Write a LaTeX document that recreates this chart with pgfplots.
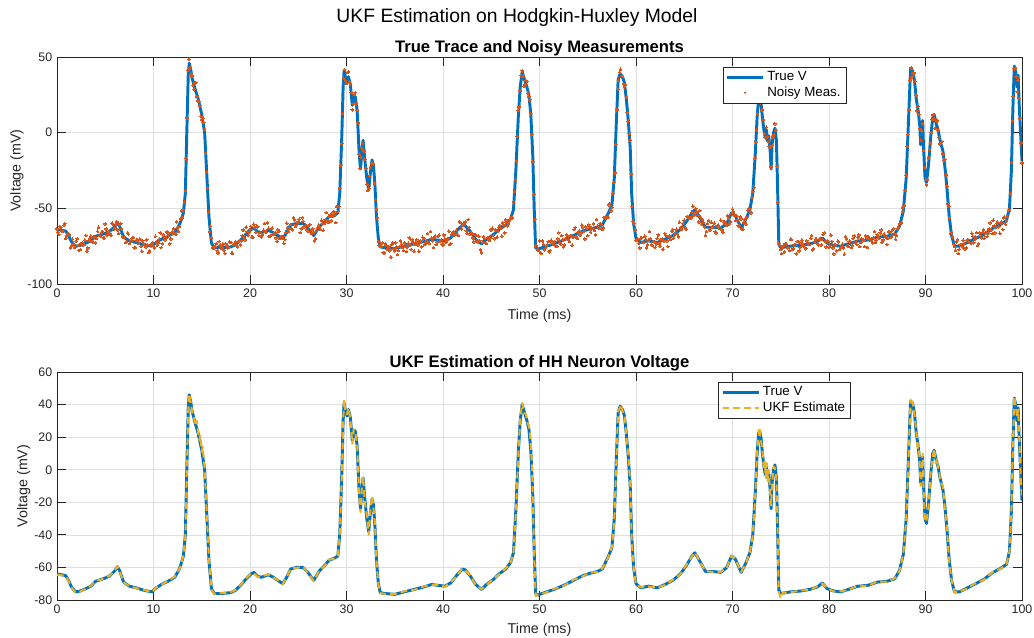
\documentclass[border=0pt]{standalone}
\usepackage{fontspec}
\setmainfont{Liberation Sans}
\usepackage{pgfplots}
\usepackage{pgfplotstable}
\pgfplotsset{compat=1.18}

\definecolor{mblue}{RGB}{0,114,189}
\definecolor{morange}{RGB}{217,83,25}
\definecolor{myellow}{RGB}{237,177,32}
\definecolor{maxis}{RGB}{38,38,38}
\definecolor{mgrid}{RGB}{223,223,223}

% true membrane voltage (ms, mV)
\pgfplotstableread{
t v
0.0 -64
0.5 -64.5
0.9 -65
1.2 -68
1.5 -72
1.9 -75
2.4 -74.5
3.0 -73
3.5 -71.5
4.0 -68.5
4.5 -67.5
5.0 -66.5
5.5 -65
6.0 -62
6.25 -59.5
6.5 -62
6.9 -69
7.5 -71.5
8.2 -72.5
9.0 -74
9.8 -75
10.3 -72.5
10.8 -70.5
11.5 -68.5
12.2 -66
12.5 -63
12.8 -59
13.1 -53
13.3 -40
13.45 0
13.6 38
13.7 46
13.85 42
14.0 36
14.3 29
14.6 23
15.0 12
15.3 0
15.5 -25
15.75 -56
16.0 -73
16.3 -76
17.0 -76
18.0 -75.5
18.5 -74
19.1 -70.5
19.6 -67
20.1 -64
20.4 -63
20.8 -65.5
21.2 -66
21.9 -64.5
22.4 -66
22.9 -68
23.4 -70
23.8 -66
24.2 -61
24.8 -60
25.5 -60
26.0 -63
26.6 -68
27.2 -62
27.7 -59
28.2 -55.5
28.7 -54.5
29.1 -53
29.3 -40
29.5 -5
29.65 30
29.75 41
29.9 36
30.05 33
30.2 37
30.4 32
30.6 18
30.75 24
30.9 24
31.1 15
31.3 -12
31.45 -24
31.6 -12
31.72 -5
31.9 -18
32.1 -30
32.3 -38
32.5 -25
32.65 -18
32.8 -22
32.95 -35
33.1 -55
33.3 -70
33.5 -75.5
34.0 -76
35.0 -76.5
36.0 -75
37.0 -73.5
38.0 -72
38.8 -70.5
39.5 -71
40.2 -71.5
40.8 -69.5
41.4 -65
42.0 -61
42.3 -61.5
42.8 -65
43.4 -70.5
44.0 -73.5
44.5 -70.5
45.2 -67.5
45.8 -64
46.5 -61
47.0 -57
47.3 -51
47.55 -25
47.8 10
48.0 30
48.2 40
48.4 36
48.7 30
48.9 25
49.1 12
49.3 -15
49.45 -50
49.6 -76
49.8 -77
50.5 -75.5
51.5 -73.5
52.5 -71
53.5 -68
54.5 -65
55.3 -63.5
56.0 -62.5
56.5 -61
57.0 -55
57.5 -48
57.75 -30
57.95 5
58.15 35
58.35 39
58.6 37
58.8 33
59.0 22
59.2 8
59.4 -10
59.55 -40
59.75 -60
60.0 -70
60.5 -72.5
61.3 -71.5
62.2 -72.5
63.0 -70.5
63.8 -68
64.6 -64
65.2 -59
65.8 -53
66.1 -51
66.6 -56
67.2 -62.5
68.0 -62.5
68.8 -63
69.4 -60
69.9 -53
70.3 -55
70.9 -63
71.4 -57
71.8 -51
72.1 -40
72.35 -15
72.55 10
72.7 22
72.8 24
72.95 20
73.1 10
73.25 2
73.4 -3
73.5 2
73.6 -5
73.75 -2
73.9 -12
74.0 -24
74.1 -8
74.25 0
74.4 3
74.55 -5
74.65 -30
74.8 -74
75.0 -76
76.0 -75
77.0 -74.5
78.0 -73.5
78.8 -72
79.3 -69.5
79.8 -73
80.5 -74.5
81.2 -75
82.0 -73.5
83.0 -71.5
84.0 -71
85.0 -69
86.0 -68.5
86.8 -67
87.3 -62
87.7 -52
88.0 -30
88.25 10
88.45 42
88.65 41
88.85 35
89.05 22
89.25 14
89.4 5
89.5 -8
89.6 -5
89.7 8
89.8 -10
89.95 -30
90.1 -33
90.3 -22
90.55 -2
90.75 10
90.9 12
91.1 6
91.3 2
91.5 -5
91.8 -12
92.0 -22
92.2 -35
92.45 -55
92.7 -68
93.0 -75
93.5 -75
94.2 -73
95.0 -70.5
96.0 -67.5
97.0 -63
97.8 -60.5
98.4 -58
98.7 -50
98.9 -25
99.05 15
99.2 44
99.35 40
99.5 30
99.6 38
99.7 20
99.85 0
100.0 -19
}\truev

% noisy measurements, every 0.2 ms
\pgfplotstableread{
t m
0.0 -63.6
0.2 -67.3
0.4 -62.6
0.6 -65.3
0.8 -60.3
1.0 -68.2
1.2 -67.1
1.4 -76.0
1.6 -70.3
1.8 -75.7
2.0 -71.6
2.2 -74.6
2.4 -77.3
2.6 -72.8
2.8 -74.0
3.0 -67.9
3.2 -76.1
3.4 -69.8
3.6 -72.0
3.8 -69.1
4.0 -72.7
4.2 -65.1
4.4 -67.9
4.6 -65.8
4.8 -69.4
5.0 -60.3
5.2 -67.7
5.4 -65.0
5.6 -67.8
5.8 -60.5
6.0 -62.9
6.2 -59.0
6.4 -66.6
6.6 -60.0
6.8 -68.8
7.0 -68.7
7.2 -72.2
7.4 -67.0
7.6 -72.0
7.8 -69.7
8.0 -76.1
8.2 -71.1
8.4 -73.0
8.6 -70.4
8.8 -78.4
9.0 -73.2
9.2 -75.6
9.4 -74.1
9.6 -77.9
9.8 -73.2
10.0 -74.7
10.2 -68.4
10.4 -74.3
10.6 -70.4
10.8 -75.8
11.0 -67.4
11.2 -70.8
11.4 -65.5
11.6 -68.0
11.8 -70.2
12.0 -65.5
12.2 -66.5
12.4 -58.9
12.6 -65.4
12.8 -57.0
13.0 -56.1
13.2 -45.9
13.4 -17.2
13.6 41.0
13.8 42.8
14.0 37.5
14.2 28.8
14.4 33.2
14.6 21.2
14.8 17.8
15.0 8.6
15.2 6.7
15.4 -13.4
15.6 -36.6
15.8 -65.4
16.0 -69.2
16.2 -76.6
16.4 -75.3
16.6 -78.0
16.8 -71.9
17.0 -76.4
17.2 -73.7
17.4 -79.7
17.6 -74.3
17.8 -75.7
18.0 -72.6
18.2 -79.7
18.4 -73.5
18.6 -74.7
18.8 -71.8
19.0 -74.2
19.2 -68.0
19.4 -69.1
19.6 -62.4
19.8 -68.0
20.0 -63.7
20.2 -69.0
20.4 -60.5
20.6 -65.7
20.8 -62.2
21.0 -65.7
21.2 -68.8
21.4 -64.4
21.6 -65.6
21.8 -59.6
22.0 -68.5
22.2 -63.4
22.4 -67.1
22.6 -66.2
22.8 -71.8
23.0 -65.4
23.2 -69.4
23.4 -68.5
23.6 -70.5
23.8 -59.8
24.0 -65.3
24.2 -60.7
24.4 -64.1
24.6 -57.6
24.8 -60.9
25.0 -59.0
25.2 -66.0
25.4 -56.2
25.6 -62.2
25.8 -61.1
26.0 -65.0
26.2 -60.6
26.4 -66.7
26.6 -65.8
26.8 -69.9
27.0 -62.6
27.2 -62.1
27.4 -57.9
27.6 -64.4
27.8 -57.5
28.0 -58.2
28.2 -55.1
28.4 -58.2
28.6 -52.9
28.8 -54.8
29.0 -48.8
29.2 -48.7
29.4 -21.6
29.6 12.7
29.8 41.8
30.0 32.6
30.2 40.3
30.4 32.1
30.6 15.2
30.8 25.2
31.0 19.0
31.2 6.6
31.4 -23.7
31.6 -10.0
31.8 -12.1
32.0 -23.4
32.2 -38.2
32.4 -28.5
32.6 -20.5
32.8 -20.5
33.0 -44.2
33.2 -56.3
33.4 -74.6
33.6 -75.3
33.8 -79.2
34.0 -73.3
34.2 -77.0
34.4 -75.2
34.6 -82.3
34.8 -72.6
35.0 -78.1
35.2 -75.5
35.4 -77.9
35.6 -71.5
35.8 -75.7
36.0 -72.8
36.2 -78.6
36.4 -73.0
36.6 -74.2
36.8 -70.9
37.0 -78.3
37.2 -72.4
37.4 -74.2
37.6 -72.2
37.8 -75.4
38.0 -70.2
38.2 -72.3
38.4 -66.7
38.6 -73.1
38.8 -69.6
39.0 -75.9
39.2 -68.3
39.4 -72.3
39.6 -67.8
39.8 -71.1
40.0 -74.2
40.2 -70.3
40.4 -71.3
40.6 -65.1
40.8 -73.2
41.0 -66.0
41.2 -67.6
41.4 -64.4
41.6 -67.9
41.8 -59.3
42.0 -61.2
42.2 -59.8
42.4 -64.7
42.6 -57.4
42.8 -66.8
43.0 -66.5
43.2 -72.1
43.4 -67.8
43.6 -72.4
43.8 -71.5
44.0 -79.5
44.2 -68.5
44.4 -72.7
44.6 -69.4
44.8 -71.2
45.0 -64.3
45.2 -67.9
45.4 -64.1
45.6 -69.1
45.8 -62.6
46.0 -63.2
46.2 -59.4
46.4 -66.2
46.6 -59.4
46.8 -59.9
47.0 -56.6
47.2 -56.1
47.4 -38.8
47.6 -18.7
47.8 14.6
48.0 27.8
48.2 40.9
48.4 30.7
48.6 34.5
48.8 26.1
49.0 21.8
49.2 -1.4
49.4 -40.8
49.6 -74.8
49.8 -77.5
50.0 -71.5
50.2 -79.8
50.4 -73.7
50.6 -76.4
50.8 -74.3
51.0 -78.7
51.2 -71.1
51.4 -73.9
51.6 -71.8
51.8 -75.3
52.0 -66.1
52.2 -73.6
52.4 -71.0
52.6 -74.1
52.8 -67.4
53.0 -70.4
53.2 -67.9
53.4 -74.3
53.6 -63.9
53.8 -68.7
54.0 -65.8
54.2 -67.9
54.4 -61.2
54.6 -65.2
54.8 -62.2
55.0 -68.0
55.2 -62.3
55.4 -63.5
55.6 -60.2
55.8 -67.6
56.0 -61.7
56.2 -63.2
56.4 -60.9
56.6 -62.9
56.8 -55.6
57.0 -55.7
57.2 -47.6
57.4 -51.6
57.6 -39.9
57.8 -26.6
58.0 15.0
58.2 34.6
58.4 41.9
58.6 37.1
58.8 30.2
59.0 23.2
59.2 7.5
59.4 -4.9
59.6 -48.7
59.8 -60.0
60.0 -71.1
60.2 -70.4
60.4 -76.2
60.6 -69.4
60.8 -72.3
61.0 -70.4
61.2 -74.1
61.4 -65.4
61.6 -73.7
61.8 -71.8
62.0 -75.7
62.2 -69.8
62.4 -72.9
62.6 -70.5
62.8 -77.0
63.0 -66.7
63.2 -71.5
63.4 -68.6
63.6 -70.6
63.8 -63.9
64.0 -67.4
64.2 -63.8
64.4 -68.9
64.6 -62.6
64.8 -62.4
65.0 -57.8
65.2 -63.8
65.4 -56.2
65.6 -56.3
65.8 -52.6
66.0 -54.8
66.2 -50.2
66.4 -54.7
66.6 -51.4
66.8 -60.4
67.0 -59.4
67.2 -67.8
67.4 -60.0
67.6 -63.9
67.8 -59.2
68.0 -62.4
68.2 -65.4
68.4 -61.6
68.6 -63.4
68.8 -57.9
69.0 -65.7
69.2 -59.0
69.4 -61.1
69.6 -56.6
69.8 -58.6
70.0 -50.5
70.2 -54.7
70.4 -54.8
70.6 -61.5
70.8 -55.5
71.0 -63.6
71.2 -59.1
71.4 -60.4
71.6 -51.3
71.8 -51.9
72.0 -42.7
72.2 -36.0
72.4 -6.2
72.6 12.4
72.8 24.7
73.0 14.7
73.2 8.8
73.4 -3.4
73.6 -2.8
73.8 -9.2
74.0 -22.6
74.2 -2.8
74.4 5.9
74.6 -22.3
74.8 -73.2
75.0 -77.3
75.2 -75.4
75.4 -78.7
75.6 -73.6
75.8 -75.9
76.0 -70.4
76.2 -77.1
76.4 -73.9
76.6 -80.0
76.8 -72.1
77.0 -75.9
77.2 -71.0
77.4 -74.0
77.6 -76.7
77.8 -72.5
78.0 -74.0
78.2 -68.0
78.4 -76.5
78.6 -70.4
78.8 -73.1
79.0 -70.4
79.2 -74.2
79.4 -67.2
79.6 -71.8
79.8 -71.5
80.0 -75.9
80.2 -67.7
80.4 -76.1
80.6 -74.3
80.8 -78.1
81.0 -72.2
81.2 -75.9
81.4 -73.6
81.6 -80.3
81.8 -70.1
82.0 -75.1
82.2 -72.4
82.4 -74.7
82.6 -68.2
82.8 -72.3
83.0 -69.3
83.2 -75.3
83.4 -69.9
83.6 -71.3
83.8 -68.2
84.0 -75.8
84.2 -69.8
84.4 -71.5
84.6 -69.4
84.8 -72.5
85.0 -67.2
85.2 -69.6
85.4 -64.2
85.6 -70.9
85.8 -67.7
86.0 -73.8
86.2 -65.6
86.4 -69.2
86.6 -64.1
86.8 -66.9
87.0 -67.8
87.2 -61.8
87.4 -60.0
87.6 -49.4
87.8 -48.4
88.0 -28.0
88.2 -1.1
88.4 34.6
88.6 37.0
88.8 39.5
89.0 24.8
89.2 17.5
89.4 2.5
89.6 1.2
89.8 -11.8
90.0 -30.7
90.2 -30.9
90.4 -11.3
90.6 0.1
90.8 11.7
91.0 3.0
91.2 7.8
91.4 -3.1
91.6 -6.6
91.8 -14.0
92.0 -17.9
92.2 -35.4
92.4 -48.8
92.6 -66.7
92.8 -68.9
93.0 -75.1
93.2 -72.1
93.4 -79.8
93.6 -73.9
93.8 -75.4
94.0 -73.2
94.2 -76.1
94.4 -70.6
94.6 -72.5
94.8 -66.5
95.0 -72.7
95.2 -69.0
95.4 -74.6
95.6 -66.2
95.8 -69.5
96.0 -64.2
96.2 -66.5
96.4 -68.5
96.6 -63.6
96.8 -64.4
97.0 -57.9
97.2 -66.1
97.4 -59.8
97.6 -62.2
97.8 -59.9
98.0 -63.9
98.2 -55.8
98.4 -58.2
98.6 -51.2
98.8 -40.0
99.0 7.9
99.2 42.2
99.4 37.0
99.6 34.6
99.8 9.4
100.0 -19.9
}\noisya

% noisy measurements between those samples
\pgfplotstableread{
t m
0.1 -65.8
0.3 -61.9
0.5 -64.8
0.7 -61.2
0.9 -69.9
1.1 -66.5
1.3 -67.5
1.5 -74.4
1.7 -73.4
1.9 -75.6
2.1 -70.0
2.3 -77.8
2.5 -73.2
2.7 -74.4
2.9 -71.0
3.1 -78.3
3.3 -71.2
3.5 -68.3
3.7 -72.4
3.9 -69.1
4.1 -69.8
4.3 -62.5
4.5 -68.3
4.7 -65.5
4.9 -69.7
5.1 -63.6
5.3 -66.0
5.5 -67.2
5.7 -59.9
5.9 -63.8
6.1 -60.4
6.3 -64.3
6.5 -60.9
6.7 -63.5
6.9 -69.2
7.1 -72.5
7.3 -66.3
7.5 -73.3
7.7 -71.4
7.9 -69.3
8.1 -75.9
8.3 -71.0
8.5 -73.3
8.7 -75.2
8.9 -71.4
9.1 -74.5
9.3 -70.8
9.5 -79.1
9.7 -74.4
9.9 -72.6
10.1 -76.1
10.3 -72.4
10.5 -72.7
10.7 -66.1
10.9 -73.4
11.1 -68.6
11.3 -69.7
11.5 -66.2
11.7 -73.4
11.9 -66.2
12.1 -63.3
12.3 -67.1
12.5 -62.9
12.7 -61.9
12.9 -51.6
13.1 -51.6
13.3 -38.4
13.5 9.7
13.7 48.6
13.9 39.1
14.1 31.4
14.3 32.9
14.5 23.8
14.7 20.9
14.9 10.8
15.1 9.3
15.3 2.0
15.5 -25.9
15.7 -52.5
15.9 -61.8
16.1 -75.9
16.3 -75.6
16.5 -73.2
16.7 -79.5
16.9 -74.3
17.1 -76.2
17.3 -77.6
17.5 -73.4
17.7 -76.0
17.9 -72.0
18.1 -79.6
18.3 -74.1
18.5 -72.0
18.7 -75.4
18.9 -71.5
19.1 -71.5
19.3 -64.3
19.5 -70.9
19.7 -65.3
19.9 -65.8
20.1 -61.9
20.3 -69.0
20.5 -62.8
20.7 -61.8
20.9 -67.8
21.1 -65.9
21.3 -67.3
21.5 -60.0
21.7 -65.7
21.9 -63.2
22.1 -68.1
22.3 -63.1
22.5 -66.8
22.7 -69.5
22.9 -64.1
23.1 -70.0
23.3 -69.0
23.5 -73.0
23.7 -65.7
23.9 -62.8
24.1 -63.2
24.3 -63.6
24.5 -56.1
24.7 -62.1
24.9 -59.6
25.1 -57.2
25.3 -63.5
25.5 -58.6
25.7 -61.4
25.9 -64.1
26.1 -61.5
26.3 -65.8
26.5 -63.6
26.7 -71.4
26.9 -64.5
27.1 -61.1
27.3 -64.0
27.5 -60.0
27.7 -60.0
27.9 -52.8
28.1 -59.4
28.3 -54.2
28.5 -55.5
28.7 -52.1
28.9 -59.4
29.1 -52.1
29.3 -36.9
29.5 -7.1
29.7 36.0
29.9 34.5
30.1 39.7
30.3 33.7
30.5 26.6
30.7 19.0
30.9 26.6
31.1 14.6
31.3 -14.3
31.5 -16.1
31.7 -7.2
31.9 -17.4
32.1 -34.0
32.3 -36.7
32.5 -23.0
32.7 -20.2
32.9 -33.4
33.1 -50.6
33.3 -71.9
33.5 -75.1
33.7 -72.9
33.9 -79.4
34.1 -74.4
34.3 -76.4
34.5 -78.0
34.7 -74.0
34.9 -76.8
35.1 -72.8
35.3 -80.5
35.5 -75.3
35.7 -73.6
35.9 -77.8
36.1 -74.7
36.3 -75.6
36.5 -69.5
36.7 -77.2
36.9 -72.6
37.1 -74.0
37.3 -70.8
37.5 -78.4
37.7 -71.6
37.9 -69.1
38.1 -73.9
38.3 -71.5
38.5 -72.6
38.7 -65.3
38.9 -71.4
39.1 -69.1
39.3 -73.9
39.5 -68.4
39.7 -71.6
39.9 -73.6
40.1 -67.6
40.3 -72.4
40.5 -69.9
40.7 -73.9
40.9 -67.5
41.1 -65.3
41.3 -66.7
41.5 -67.1
41.7 -58.6
41.9 -63.6
42.1 -60.8
42.3 -59.0
42.5 -66.4
42.7 -62.6
42.9 -66.1
43.1 -69.5
43.3 -67.2
43.5 -71.3
43.7 -68.4
43.9 -77.4
44.1 -72.4
44.3 -69.8
44.5 -73.2
44.7 -69.5
44.9 -69.8
45.1 -63.2
45.3 -70.1
45.5 -64.7
45.7 -65.2
45.9 -61.3
46.1 -68.3
46.3 -61.0
46.5 -57.7
46.7 -61.5
46.9 -57.8
47.1 -56.5
47.3 -45.6
47.5 -30.8
47.7 -2.4
47.9 17.0
48.1 37.6
48.3 37.6
48.5 31.7
48.7 33.9
48.9 23.8
49.1 12.6
49.3 -19.0
49.5 -57.4
49.7 -74.5
49.9 -77.7
50.1 -79.1
50.3 -71.5
50.5 -77.4
50.7 -74.7
50.9 -71.9
51.1 -77.8
51.3 -72.2
51.5 -73.7
51.7 -74.8
51.9 -70.2
52.1 -72.4
52.3 -68.0
52.5 -75.4
52.7 -69.9
52.9 -67.9
53.1 -71.8
53.3 -68.4
53.5 -69.0
53.7 -62.6
53.9 -70.0
54.1 -65.1
54.3 -66.2
54.5 -62.8
54.7 -70.2
54.9 -63.4
55.1 -60.8
55.3 -65.7
55.5 -63.3
55.7 -64.5
55.9 -57.3
56.1 -63.0
56.3 -60.0
56.5 -64.0
56.7 -56.0
56.9 -56.6
57.1 -55.9
57.3 -46.9
57.5 -49.2
57.7 -33.0
57.9 -7.8
58.1 28.8
58.3 40.0
58.5 36.9
58.7 32.3
58.9 31.9
59.1 13.1
59.3 -0.6
59.5 -27.2
59.7 -58.5
59.9 -64.3
60.1 -70.7
60.3 -73.2
60.5 -69.8
60.7 -72.6
60.9 -68.4
61.1 -76.2
61.3 -71.1
61.5 -69.9
61.7 -74.6
61.9 -72.0
62.1 -73.4
62.3 -67.5
62.5 -75.0
62.7 -70.2
62.9 -71.4
63.1 -67.9
63.3 -75.2
63.5 -68.1
63.7 -65.2
63.9 -69.6
64.1 -66.5
64.3 -67.0
64.5 -59.1
64.7 -64.0
64.9 -59.9
65.1 -62.9
65.3 -55.4
65.5 -56.4
65.7 -56.3
65.9 -48.5
66.1 -53.1
66.3 -52.4
66.5 -59.0
66.7 -55.8
66.9 -57.3
67.1 -62.3
67.3 -65.2
67.5 -58.1
67.7 -64.4
67.9 -62.1
68.1 -59.8
68.3 -66.2
68.5 -61.2
68.7 -63.2
68.9 -64.2
69.1 -59.1
69.3 -60.8
69.5 -55.0
69.7 -60.2
69.9 -53.5
70.1 -52.1
70.3 -58.0
70.5 -57.5
70.7 -61.4
70.9 -57.0
71.1 -63.8
71.3 -57.1
71.5 -56.1
71.7 -50.2
71.9 -53.0
72.1 -39.1
72.3 -16.9
72.5 1.7
72.7 22.0
72.9 19.8
73.1 15.4
73.3 -0.5
73.5 3.6
73.7 -6.0
73.9 -9.4
74.1 -8.4
74.3 -1.3
74.5 1.6
74.7 -45.9
74.9 -74.4
75.1 -79.9
75.3 -74.4
75.5 -73.5
75.7 -76.2
75.9 -77.8
76.1 -70.6
76.3 -76.8
76.5 -74.4
76.7 -71.9
76.9 -78.1
77.1 -72.7
77.3 -74.4
77.5 -75.7
77.7 -71.4
77.9 -73.9
78.1 -69.7
78.3 -77.4
78.5 -72.1
78.7 -70.3
78.9 -74.1
79.1 -70.3
79.3 -70.5
79.5 -66.1
79.7 -75.5
79.9 -72.1
80.1 -74.3
80.3 -71.8
80.5 -80.1
80.7 -73.8
80.9 -71.7
81.1 -77.1
81.3 -74.8
81.5 -76.0
81.7 -68.7
81.9 -74.5
82.1 -71.7
82.3 -75.9
82.5 -69.9
82.7 -72.5
82.9 -74.0
83.1 -67.6
83.3 -72.6
83.5 -70.7
83.7 -75.2
83.9 -69.8
84.1 -68.8
84.3 -71.3
84.5 -72.7
84.7 -65.2
84.9 -71.1
85.1 -68.6
85.3 -66.1
85.5 -72.3
85.7 -67.0
85.9 -68.8
86.1 -70.0
86.3 -65.6
86.5 -67.9
86.7 -63.6
86.9 -70.4
87.1 -63.5
87.3 -60.1
87.5 -59.6
87.7 -51.8
87.9 -38.3
88.1 -9.2
88.3 15.2
88.5 42.9
88.7 38.9
88.9 34.0
89.1 14.4
89.3 11.9
89.5 -4.9
89.7 5.9
89.9 -23.3
90.1 -34.5
90.3 -16.6
90.5 -6.8
90.7 8.6
90.9 9.0
91.1 8.6
91.3 1.6
91.5 -7.3
91.7 -5.8
91.9 -18.2
92.1 -27.9
92.3 -47.0
92.5 -56.3
92.7 -66.0
92.9 -73.6
93.1 -77.7
93.3 -70.6
93.5 -76.9
93.7 -74.0
93.9 -71.1
94.1 -76.8
94.3 -71.0
94.5 -72.3
94.7 -73.2
94.9 -68.4
95.1 -70.5
95.3 -66.0
95.5 -73.4
95.7 -67.9
95.9 -65.9
96.1 -69.7
96.3 -66.0
96.5 -66.3
96.7 -59.6
96.9 -66.7
97.1 -61.6
97.3 -62.7
97.5 -59.2
97.7 -66.4
97.9 -59.2
98.1 -56.2
98.3 -60.5
98.5 -55.3
98.7 -51.5
98.9 -19.6
99.1 24.2
99.3 42.9
99.5 27.0
99.7 22.6
99.9 -6.7
}\noisyb

% UKF estimate of the voltage
\pgfplotstableread{
t u
0.0 -64.5
0.5 -64.8
0.9 -65.3
1.2 -68.3
1.5 -72.2
1.9 -75.3
2.4 -74.8
3.0 -73.1
3.5 -71.3
4.0 -68.2
4.5 -67.6
5.0 -66.2
5.5 -64.9
6.0 -61.8
6.25 -59.3
6.5 -62.4
6.9 -69.2
7.5 -71.4
8.2 -72.7
9.0 -73.8
9.8 -75.2
10.3 -72.3
10.8 -70.7
11.5 -68.3
12.2 -65.7
12.5 -62.6
12.8 -59.4
13.1 -52.5
13.3 -41
13.45 -2
13.6 36
13.7 46.5
13.8 43.5
13.95 38
14.1 33
14.25 30.5
14.4 27
14.5 30
14.6 24
14.75 18
14.85 21
15.0 11
15.1 14
15.3 1
15.5 -24
15.75 -55
16.0 -73.5
16.3 -76.2
17.0 -75.8
18.0 -75.3
18.5 -73.8
19.1 -70.3
19.6 -66.6
20.1 -63.8
20.4 -63.5
20.8 -65.8
21.2 -65.5
21.9 -64.2
22.4 -66.3
22.9 -67.7
23.4 -70.3
23.8 -65.8
24.2 -60.7
24.8 -60.3
25.5 -59.6
26.0 -63.3
26.6 -68.3
27.2 -61.7
27.7 -59.3
28.2 -55.2
28.7 -54.8
29.1 -52.7
29.3 -41
29.5 -7
29.65 28
29.75 43
29.9 35
30.05 34
30.2 38
30.4 31
30.6 16
30.75 25
30.9 23
31.1 16
31.3 -14
31.45 -26
31.6 -10
31.72 -4
31.9 -20
32.1 -28
32.3 -40
32.5 -23
32.65 -16
32.8 -24
32.95 -33
33.1 -56
33.3 -70.5
33.5 -75.8
34.0 -76.2
35.0 -76.3
36.0 -74.7
37.0 -73.8
38.0 -71.7
38.8 -70.8
39.5 -70.7
40.2 -71.8
40.8 -69.2
41.4 -65.3
42.0 -60.6
42.3 -61.8
42.8 -64.7
43.4 -70.8
44.0 -73.3
44.5 -70.8
45.2 -67.2
45.8 -64.3
46.5 -60.7
47.0 -57.3
47.3 -50.6
47.55 -27
47.8 8
48.0 31
48.2 41
48.4 35
48.6 34
48.75 29
48.9 27
49.05 20
49.2 5
49.3 -14
49.45 -52
49.6 -77.5
49.8 -76.8
50.5 -75.8
51.5 -73.2
52.5 -71.3
53.5 -67.7
54.5 -65.3
55.3 -63.2
56.0 -62.8
56.5 -60.7
57.0 -55.3
57.5 -47.6
57.75 -31
57.95 3
58.15 36
58.35 38
58.5 40
58.6 36
58.8 34
59.0 21
59.2 9
59.4 -8
59.55 -42
59.75 -60
60.0 -70.4
60.5 -72.2
61.3 -71.8
62.2 -72.3
63.0 -70.8
63.8 -67.7
64.6 -64.3
65.2 -58.7
65.8 -53.3
66.1 -50.7
66.6 -56.3
67.2 -62.2
68.0 -62.8
68.8 -62.7
69.4 -60.3
69.9 -52.7
70.3 -55.3
70.9 -62.7
71.4 -57.3
71.8 -50.7
72.1 -40.5
72.35 -17
72.55 12
72.7 20
72.8 26
72.95 18
73.1 12
73.25 0
73.35 5
73.45 -5
73.55 4
73.65 -7
73.75 0
73.9 -14
74.0 -22
74.1 -10
74.25 2
74.4 1
74.55 -6
74.65 -32
74.8 -75
75.0 -79
75.2 -75.6
76.0 -75.3
77.0 -74.2
78.0 -73.8
78.8 -71.7
79.3 -69.8
79.8 -72.7
80.5 -74.8
81.2 -74.7
82.0 -73.8
83.0 -71.2
84.0 -71.3
85.0 -68.7
86.0 -68.8
86.8 -66.7
87.3 -62.3
87.7 -51.6
88.0 -31
88.25 8
88.45 43
88.55 40
88.65 42
88.85 34
89.05 23
89.2 12
89.3 16
89.4 3
89.5 -10
89.6 -3
89.7 10
89.8 -12
89.95 -32
90.1 -31
90.3 -24
90.55 0
90.75 8
90.9 13
91.05 4
91.2 7
91.3 0
91.45 -2
91.5 -7
91.8 -10
92.0 -24
92.2 -34
92.45 -56
92.7 -67.6
93.0 -75.3
93.5 -74.7
94.2 -73.3
95.0 -70.2
96.0 -67.8
97.0 -62.7
97.8 -60.8
98.4 -57.7
98.7 -50.5
98.9 -26
99.05 13
99.2 45
99.35 39
99.5 32
99.6 37
99.7 22
99.85 -2
100.0 -18
}\ukfest

\pgfplotsset{
  hh/.style={
    scale only axis, width=723.75pt,
    xmin=0, xmax=100, xtick={0,10,...,100},
    grid=major, major grid style={draw=mgrid, line width=0.5pt},
    axis line style={draw=maxis, line width=0.6pt},
    tick style={draw=maxis, line width=0.6pt},
    tick align=inside, tick pos=both, major tick length=6.5pt,
    /pgf/number format/assume math mode=true,
    ticklabel style={font=\fontsize{9.3}{11}\selectfont, text=maxis},
    label style={font=\fontsize{10.7}{12}\selectfont, text=maxis},
    title style={font=\fontsize{12.5}{14}\selectfont\bfseries, text=black,
      at={(axis description cs:0.5,1)}, anchor=base, yshift=-2.25pt},
    xlabel={Time (ms)}, ylabel={Voltage (mV)},
    legend cell align=left,
    legend style={draw=maxis, line width=0.5pt, fill=white,
      font=\fontsize{10}{12}\selectfont, text=black,
      inner xsep=2pt, inner ysep=1.5pt, row sep=-1pt},
  },
  dots/.style={color=morange, only marks, mark=*, mark size=1pt,
    mark options={draw=morange, fill=morange, line width=0pt}},
}

\begin{document}
\begin{tikzpicture}
\useasboundingbox (-42.75pt,-435pt) rectangle (732.75pt,42.75pt);

\node[anchor=base, font=\fontsize{14.5}{16}\selectfont] at (345pt,26pt)
  {UKF Estimation on Hodgkin-Huxley Model};

\begin{axis}[hh, at={(0pt,0pt)}, anchor=north west, height=170.25pt,
  ymin=-100, ymax=50, ytick={-100,-50,0,50},
  title={True Trace and Noisy Measurements},
  xlabel style={at={(axis description cs:0.5,-0.14)}, anchor=center},
  ylabel style={at={(axis description cs:-0.0415,0.5)}, anchor=center},
  legend style={at={(rel axis cs:0.6898,0.957)}, anchor=north west},
]
\addplot[mblue, line width=2.2pt, line join=round,
  legend image code/.code={\draw[mblue, line width=2.2pt] (0pt,0pt) -- (27pt,0pt);}]
  table[x=t, y=v] {\truev};
\addlegendentry{True V}
\addplot[dots, forget plot] table[x=t, y=m] {\noisya};
\addplot[dots, forget plot] table[x=t, y=m] {\noisyb};
\addlegendimage{draw=none, legend image code/.code={\fill[morange, draw=none] (13.5pt,0pt) circle (0.9pt); \path[draw=none, fill=none] (0pt,0pt) -- (27pt,0pt);}}
\addlegendentry{Noisy Meas.}
\end{axis}

\begin{axis}[hh, at={(0pt,-236.25pt)}, anchor=north west, height=171pt,
  ymin=-80, ymax=60, ytick={-80,-60,...,60},
  title={UKF Estimation of HH Neuron Voltage},
  xlabel style={at={(axis description cs:0.5,-0.13)}, anchor=center},
  ylabel style={at={(axis description cs:-0.0345,0.5)}, anchor=center},
  legend style={at={(rel axis cs:0.6853,0.9575)}, anchor=north west},
]
\addplot[mblue, line width=2.2pt, line join=round,
  legend image code/.code={\draw[mblue, line width=2.2pt] (0pt,0pt) -- (27pt,0pt);}]
  table[x=t, y=v] {\truev};
\addlegendentry{True V}
\addplot[myellow, line width=1.5pt, dash pattern=on 5pt off 3pt, line join=round,
  legend image code/.code={\draw[myellow, line width=1.5pt, dash pattern=on 5pt off 3pt] (0pt,0pt) -- (27pt,0pt);}]
  table[x=t, y=u] {\ukfest};
\addlegendentry{UKF Estimate}
\end{axis}
\end{tikzpicture}
\end{document}
